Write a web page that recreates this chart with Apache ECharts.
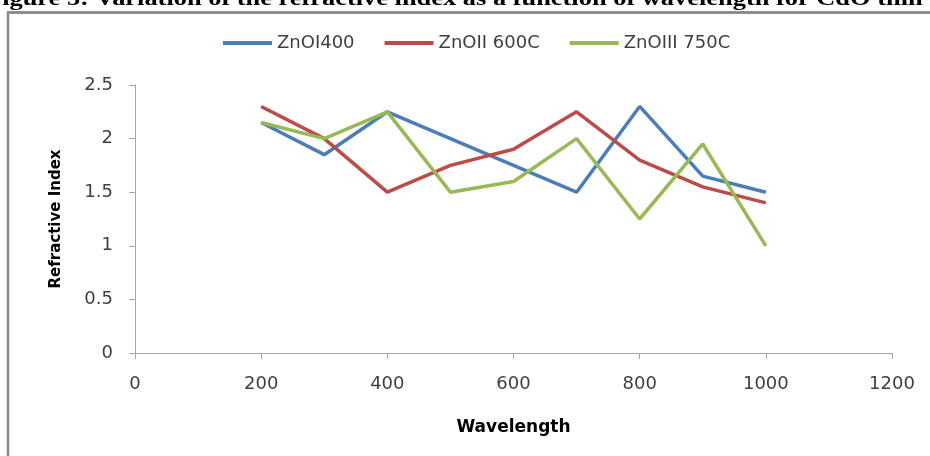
<!DOCTYPE html>
<html>
<head>
<meta charset="utf-8">
<script src="https://cdn.jsdelivr.net/npm/echarts@6/dist/echarts.min.js"></script>
<style>
  html, body { margin: 0; padding: 0; background: #fff; }
  #chart { width: 930px; height: 456px; }
</style>
</head>
<body>
<div id="chart"></div>
<script>
// wavelength points
const wavelengths = [200, 300, 400, 500, 600, 700, 800, 900, 1000]
// refractive index per sample
const zno1 = [2.15, 1.85, 2.25, 2.0, 1.75, 1.5, 2.3, 1.65, 1.5]
const zno2 = [2.3, 2.0, 1.5, 1.75, 1.9, 2.25, 1.8, 1.55, 1.4]
const zno3 = [2.15, 2.0, 2.25, 1.5, 1.6, 2.0, 1.25, 1.95, 1.0]
const seriesNames = ['ZnOI400', 'ZnOII 600C', 'ZnOIII 750C']
const colors = ['#4A7EBB', '#BE4B48', '#98B954']

const pairs = (ys) => wavelengths.map((x, i) => [x, ys[i]])

const chart = echarts.init(document.getElementById('chart'))
const labelFont = { color: '#404040', fontSize: 18, fontFamily: 'DejaVu Sans' }
const nameFont = { color: '#000', fontWeight: 'bold', fontFamily: 'DejaVu Sans' }

const option = {
  animation: false,
  color: colors,
  graphic: [
    {
      // caption of the figure, cut by the top edge in the original
      type: 'text',
      x: -14,
      y: 10,
      scaleX: 1.2,
      z: 10,
      style: {
        text: 'Figure 5: Variation of the refractive index as a function of wavelength for CdO thin films',
        font: 'bold 22px "Liberation Serif"',
        fill: '#000',
        verticalAlign: 'bottom'
      }
    },
    {
      type: 'rect',
      z: 20,
      shape: { x: 8, y: 12.5, width: 940, height: 460 },
      style: { fill: 'none', stroke: '#8a8a8a', lineWidth: 2.5 }
    },
    {
      type: 'line',
      z: 20,
      shape: { x1: 7, y1: 12.5, x2: 930, y2: 12.5 },
      style: { stroke: '#8a8a8a', lineWidth: 2.5 }
    }
  ],
  legend: {
    top: 29,
    left: 218,
    itemWidth: 49,
    itemHeight: 4,
    itemGap: 30,
    icon: 'rect',
    textStyle: { color: '#404040', fontSize: 18, fontFamily: 'DejaVu Sans' },
    data: seriesNames
  },
  grid: { left: 135, right: 38, top: 85, bottom: 103 },
  xAxis: {
    type: 'value',
    min: 0,
    max: 1200,
    interval: 200,
    name: 'Wavelength',
    nameLocation: 'middle',
    nameGap: 66,
    nameTextStyle: Object.assign({ fontSize: 17 }, nameFont),
    axisLine: { lineStyle: { color: '#a6a6a6', width: 1 } },
    axisTick: { show: true, length: 6, lineStyle: { color: '#a6a6a6' } },
    axisLabel: Object.assign({ margin: 22, formatter: (v) => String(v) }, labelFont),
    splitLine: { show: false }
  },
  yAxis: {
    type: 'value',
    min: 0,
    max: 2.5,
    interval: 0.5,
    name: 'Refractive Index',
    nameLocation: 'middle',
    nameGap: 71,
    nameTextStyle: Object.assign({ fontSize: 15 }, nameFont),
    axisLine: { show: true, lineStyle: { color: '#a6a6a6', width: 1 } },
    axisTick: { show: true, length: 6, lineStyle: { color: '#a6a6a6' } },
    axisLabel: Object.assign({ margin: 22, formatter: (v) => String(v) }, labelFont),
    splitLine: { show: false }
  },
  series: [zno1, zno2, zno3].map((ys, i) => ({
    name: seriesNames[i],
    type: 'line',
    data: pairs(ys),
    showSymbol: false,
    symbol: 'none',
    lineStyle: { width: 3.5, color: colors[i] }
  }))
}

chart.setOption(option)
</script>
</body>
</html>
